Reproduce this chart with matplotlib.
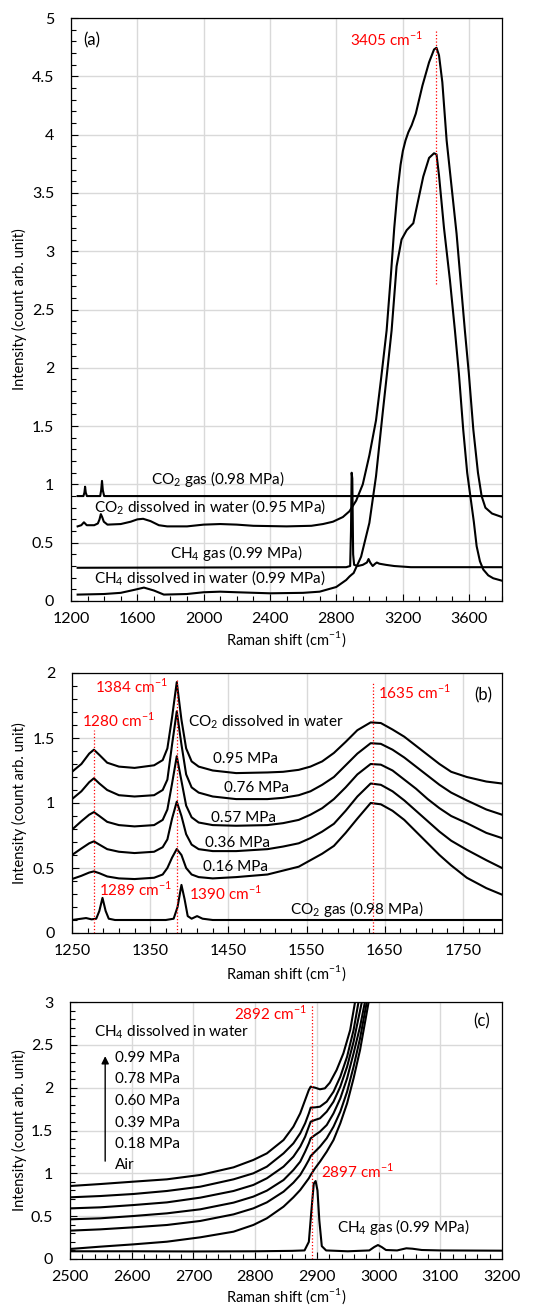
import numpy as np
import matplotlib
matplotlib.use("Agg")
import matplotlib.pyplot as plt
from matplotlib.ticker import MultipleLocator, FuncFormatter

plt.rcParams['font.family'] = ['Lato', 'DejaVu Sans']
plt.rcParams['mathtext.fontset'] = 'custom'
plt.rcParams['mathtext.rm'] = 'Lato'

# ---------------- panel (a) data ----------------
co2_gas_a_x = [1240, 1275, 1281, 1285, 1289, 1296, 1376, 1382, 1387, 1392, 1400, 3800]
co2_gas_a_y = [0.90, 0.90, 0.93, 0.98, 0.93, 0.90, 0.90, 0.95, 1.03, 0.95, 0.90, 0.90]

co2_aq_a_x = [1240, 1262, 1278, 1295, 1340, 1362, 1372, 1380, 1388, 1398, 1420, 1500, 1560,
              1600, 1635, 1680, 1730, 1780, 1900, 2000, 2100, 2200, 2300, 2500, 2650, 2720,
              2780, 2840, 2880, 2920, 2960, 3000, 3040, 3070, 3104, 3130, 3150, 3170, 3188,
              3202, 3218, 3235, 3255, 3280, 3320, 3360, 3390, 3405, 3420, 3440, 3466, 3496,
              3526, 3550, 3576, 3600, 3627, 3655, 3677, 3700, 3740, 3800]
co2_aq_a_y = [0.64, 0.65, 0.675, 0.65, 0.65, 0.665, 0.70, 0.745, 0.72, 0.68, 0.655, 0.66, 0.68,
              0.70, 0.705, 0.685, 0.65, 0.64, 0.64, 0.655, 0.66, 0.655, 0.645, 0.64, 0.645, 0.66,
              0.68, 0.72, 0.77, 0.86, 1.0, 1.25, 1.55, 1.9, 2.32, 2.8, 3.2, 3.52, 3.74,
              3.86, 3.95, 4.02, 4.08, 4.18, 4.42, 4.62, 4.73, 4.745, 4.68, 4.45, 3.95, 3.55,
              3.15, 2.75, 2.32, 1.95, 1.47, 1.1, 0.9, 0.8, 0.75, 0.72]

ch4_gas_a_x = [1240, 2860, 2884, 2889, 2893, 2897, 2902, 2908, 2930, 2960, 2985, 2995, 3005,
               3020, 3035, 3045, 3060, 3100, 3150, 3250, 3800]
ch4_gas_a_y = [0.285, 0.29, 0.30, 0.60, 1.10, 1.05, 0.40, 0.31, 0.30, 0.31, 0.33, 0.36, 0.33,
               0.30, 0.32, 0.33, 0.32, 0.31, 0.30, 0.29, 0.29]

ch4_aq_a_x = [1240, 1400, 1500, 1580, 1640, 1700, 1760, 1900, 2000, 2100, 2200, 2400, 2600,
              2700, 2800, 2860, 2880, 2892, 2905, 2950, 3000, 3040, 3080, 3110, 3134, 3164,
              3194, 3225, 3265, 3295, 3325, 3360, 3390, 3405, 3420, 3450, 3486, 3516, 3540,
              3566, 3590, 3610, 3630, 3647, 3667, 3687, 3717, 3747, 3800]
ch4_aq_a_y = [0.055, 0.06, 0.07, 0.095, 0.115, 0.09, 0.055, 0.06, 0.075, 0.08, 0.075, 0.066, 0.07,
              0.08, 0.12, 0.18, 0.21, 0.225, 0.24, 0.38, 0.67, 1.07, 1.61, 2.0, 2.32, 2.87,
              3.10, 3.18, 3.24, 3.44, 3.64, 3.80, 3.84, 3.83, 3.65, 3.20, 2.75, 2.32, 1.95,
              1.47, 1.1, 0.89, 0.68, 0.47, 0.34, 0.27, 0.22, 0.195, 0.174]

# ---------------- panel (b) data ----------------
co2_gas_b_x = [1250, 1262, 1268, 1275, 1281, 1285, 1289, 1293, 1297, 1305, 1370, 1380, 1385,
               1390, 1394, 1398, 1403, 1410, 1417, 1430, 1800]
co2_gas_b_y = [0.10, 0.11, 0.115, 0.105, 0.11, 0.17, 0.27, 0.17, 0.11, 0.10, 0.10, 0.11, 0.20,
               0.37, 0.26, 0.13, 0.11, 0.13, 0.11, 0.10, 0.10]

aq_b_x = [1250, 1262, 1272, 1278, 1285, 1295, 1310, 1330, 1355, 1366, 1372, 1378, 1384, 1390,
          1396, 1403, 1412, 1430, 1460, 1500, 1520, 1540, 1555, 1570, 1585, 1600, 1615, 1632,
          1645, 1660, 1675, 1690, 1705, 1720, 1735, 1755, 1780, 1800]
aq_095 = [1.24, 1.30, 1.38, 1.41, 1.37, 1.31, 1.28, 1.27, 1.29, 1.33, 1.42, 1.66, 1.93, 1.64,
          1.42, 1.32, 1.28, 1.25, 1.23, 1.235, 1.24, 1.255, 1.28, 1.32, 1.385, 1.47, 1.56, 1.62,
          1.615, 1.565, 1.51, 1.44, 1.37, 1.30, 1.24, 1.20, 1.165, 1.15]
aq_076 = [1.03, 1.09, 1.16, 1.19, 1.15, 1.10, 1.06, 1.05, 1.06, 1.10, 1.18, 1.45, 1.705, 1.45,
          1.22, 1.12, 1.08, 1.05, 1.03, 1.03, 1.04, 1.06, 1.09, 1.14, 1.20, 1.29, 1.38, 1.46,
          1.455, 1.41, 1.35, 1.28, 1.21, 1.14, 1.08, 1.02, 0.95, 0.91]
aq_057 = [0.795, 0.86, 0.91, 0.93, 0.90, 0.855, 0.83, 0.82, 0.83, 0.87, 0.95, 1.15, 1.36, 1.17,
          0.98, 0.89, 0.85, 0.83, 0.825, 0.83, 0.845, 0.87, 0.91, 0.96, 1.03, 1.12, 1.22, 1.30,
          1.295, 1.25, 1.18, 1.11, 1.03, 0.96, 0.90, 0.845, 0.77, 0.73]
aq_036 = [0.60, 0.65, 0.69, 0.705, 0.68, 0.645, 0.625, 0.615, 0.625, 0.66, 0.72, 0.88, 1.01, 0.90,
          0.76, 0.68, 0.645, 0.63, 0.63, 0.645, 0.665, 0.69, 0.73, 0.78, 0.84, 0.94, 1.05, 1.15,
          1.14, 1.09, 1.02, 0.94, 0.86, 0.78, 0.71, 0.64, 0.56, 0.50]
aq_016 = [0.415, 0.44, 0.465, 0.474, 0.46, 0.435, 0.42, 0.415, 0.425, 0.45, 0.50, 0.58, 0.646, 0.60,
          0.50, 0.45, 0.43, 0.42, 0.43, 0.45, 0.48, 0.51, 0.56, 0.61, 0.67, 0.77, 0.88, 1.00,
          0.99, 0.94, 0.87, 0.78, 0.69, 0.60, 0.52, 0.425, 0.345, 0.295]
aq_b_labels = ['0.95 MPa', '0.76 MPa', '0.57 MPa', '0.36 MPa', '0.16 MPa']

# ---------------- panel (c) data ----------------
c_x_099 = [2500, 2549, 2603, 2657, 2711, 2765, 2797, 2819, 2846, 2862, 2873, 2881, 2887, 2890,
           2897, 2905, 2913, 2921, 2932, 2943, 2954, 2962]
c_y_099 = [0.852, 0.875, 0.903, 0.930, 0.981, 1.070, 1.156, 1.233, 1.389, 1.545, 1.700, 1.856,
           1.973, 2.012, 2.000, 1.981, 1.992, 2.058, 2.206, 2.401, 2.673, 3.004]
c_x_078 = [2500, 2549, 2603, 2657, 2711, 2765, 2797, 2819, 2846, 2862, 2873, 2881, 2887, 2890,
           2897, 2905, 2916, 2927, 2938, 2949, 2959.5, 2967.6]
c_y_078 = [0.720, 0.735, 0.759, 0.794, 0.844, 0.930, 1.000, 1.078, 1.233, 1.350, 1.467, 1.584,
           1.700, 1.767, 1.770, 1.778, 1.837, 1.953, 2.128, 2.362, 2.673, 3.004]
c_x_060 = [2500, 2549, 2603, 2657, 2711, 2765, 2797, 2819, 2846, 2862, 2873, 2881, 2887, 2890,
           2897, 2905, 2916, 2927, 2938, 2949, 2959.5, 2973]
c_y_060 = [0.591, 0.603, 0.630, 0.661, 0.716, 0.794, 0.864, 0.942, 1.078, 1.195, 1.311, 1.428,
           1.545, 1.603, 1.623, 1.642, 1.720, 1.837, 2.012, 2.245, 2.537, 3.004]
c_x_039 = [2500, 2549, 2603, 2657, 2711, 2765, 2797, 2819, 2846, 2862, 2873, 2881, 2887, 2890,
           2897, 2905, 2916, 2927, 2938, 2949, 2959.5, 2970, 2978]
c_y_039 = [0.463, 0.475, 0.502, 0.533, 0.580, 0.658, 0.728, 0.798, 0.922, 1.039, 1.136, 1.253,
           1.350, 1.409, 1.447, 1.486, 1.564, 1.700, 1.875, 2.109, 2.401, 2.712, 3.004]
c_x_018 = [2500, 2549, 2603, 2657, 2711, 2765, 2797, 2819, 2846, 2862, 2873, 2881, 2887, 2890,
           2897, 2905, 2916, 2927, 2938, 2949, 2959.5, 2970, 2981]
c_y_018 = [0.331, 0.346, 0.370, 0.397, 0.444, 0.521, 0.591, 0.661, 0.786, 0.891, 0.981, 1.078,
           1.156, 1.202, 1.253, 1.311, 1.409, 1.545, 1.720, 1.953, 2.245, 2.576, 3.004]
c_x_air = [2500, 2549, 2603, 2657, 2711, 2765, 2797, 2819, 2846, 2862, 2873, 2881, 2887, 2890,
           2897, 2905, 2916, 2927, 2938, 2949, 2959.5, 2970, 2984]
c_y_air = [0.117, 0.144, 0.171, 0.202, 0.253, 0.319, 0.397, 0.475, 0.611, 0.720, 0.805, 0.883,
           0.942, 0.981, 1.058, 1.136, 1.253, 1.389, 1.584, 1.817, 2.109, 2.440, 3.004]
c_labels = ['0.99 MPa', '0.78 MPa', '0.60 MPa', '0.39 MPa', '0.18 MPa', 'Air']

ch4_gas_c_x = [2500, 2600, 2700, 2800, 2860, 2880, 2887, 2891, 2895, 2898, 2901, 2904, 2908,
               2915, 2950, 2985, 2993, 2999, 3005, 3012, 3030, 3045, 3055, 3070, 3100, 3200]
ch4_gas_c_y = [0.09, 0.09, 0.088, 0.09, 0.095, 0.10, 0.20, 0.55, 0.88, 0.91, 0.80, 0.45, 0.15,
               0.10, 0.09, 0.10, 0.14, 0.163, 0.14, 0.105, 0.10, 0.125, 0.12, 0.105, 0.10, 0.097]

# ---------------- figure ----------------
W, H = 538, 1307
fig = plt.figure(figsize=(W / 100, H / 100), dpi=100)

def px_axes(l, t, r, b):
    return fig.add_axes([l / W, 1 - b / H, (r - l) / W, (b - t) / H])

ax_a = px_axes(71, 18, 502, 601)
ax_b = px_axes(72, 673, 502, 933)
ax_c = px_axes(70, 1002, 502, 1259)

FS = 11
TFS = 11.5
LW = 1.5
RED = '#ff0000'
fmt = FuncFormatter(lambda v, p: '%g' % v)

def style(ax, xlim, ylim, xmaj, xmin, ymaj, ymin, xoff=0):
    ax.set_xlim(*xlim)
    ax.set_ylim(*ylim)
    ax.xaxis.set_major_locator(MultipleLocator(xmaj, offset=xoff))
    ax.xaxis.set_minor_locator(MultipleLocator(xmin, offset=xoff % xmin))
    ax.yaxis.set_major_locator(MultipleLocator(ymaj))
    ax.yaxis.set_minor_locator(MultipleLocator(ymin))
    ax.xaxis.set_major_formatter(fmt)
    ax.yaxis.set_major_formatter(fmt)
    ax.grid(True, which='major', color='#d9d9d9', lw=1.0)
    ax.set_axisbelow(True)
    ax.tick_params(which='both', direction='in', width=0.8, colors='black')
    ax.tick_params(which='major', length=5, labelsize=TFS)
    ax.tick_params(which='minor', length=3.5)
    ax.tick_params(axis='x', pad=8)
    ax.tick_params(axis='y', pad=12)
    for s in ax.spines.values():
        s.set_linewidth(0.9)
        s.set_color('black')

xlab = r'Raman shift (cm$^{\mathregular{-1}}$)'
ylab = 'Intensity (count arb. unit)'

# ---- (a)
style(ax_a, (1200, 3800), (0, 5), 400, 100, 0.5, 0.1)
for xs, ys in [(co2_gas_a_x, co2_gas_a_y), (co2_aq_a_x, co2_aq_a_y),
               (ch4_gas_a_x, ch4_gas_a_y), (ch4_aq_a_x, ch4_aq_a_y)]:
    ax_a.plot(xs, ys, color='black', lw=LW, solid_joinstyle='round')
ax_a.plot([3400, 3400], [2.72, 4.89], color=RED, lw=0.9, ls=':')
ax_a.text(3323, 4.82, r'3405 cm$^{\mathregular{-1}}$', color=RED, fontsize=FS, ha='right', va='center')
ax_a.text(0.028, 0.962, '(a)', transform=ax_a.transAxes, fontsize=FS + 1, ha='left', va='center')
ax_a.text(2083, 1.045, r'CO$_{\mathregular{2}}$ gas (0.98 MPa)', fontsize=FS, ha='center', va='center')
ax_a.text(2040, 0.806, r'CO$_{\mathregular{2}}$ dissolved in water (0.95 MPa)', fontsize=FS, ha='center', va='center')
ax_a.text(2201, 0.41, r'CH$_{\mathregular{4}}$ gas (0.99 MPa)', fontsize=FS, ha='center', va='center')
ax_a.text(2038, 0.195, r'CH$_{\mathregular{4}}$ dissolved in water (0.99 MPa)', fontsize=FS, ha='center', va='center')

# ---- (b)
style(ax_b, (1250, 1800), (0, 2), 100, 20, 0.5, 0.1, xoff=50)
for ys in [aq_095, aq_076, aq_057, aq_036, aq_016]:
    ax_b.plot(aq_b_x, ys, color='black', lw=LW, solid_joinstyle='round')
ax_b.plot(co2_gas_b_x, co2_gas_b_y, color='black', lw=LW, solid_joinstyle='round')
for xv, top in [(1278, 1.56), (1384, 1.95), (1635, 1.92)]:
    ax_b.plot([xv, xv], [0, top], color=RED, lw=0.9, ls=':')
ax_b.text(1373, 1.90, r'1384 cm$^{\mathregular{-1}}$', color=RED, fontsize=FS, ha='right', va='center')
ax_b.text(1641, 1.85, r'1635 cm$^{\mathregular{-1}}$', color=RED, fontsize=FS, ha='left', va='center')
ax_b.text(1263, 1.635, r'1280 cm$^{\mathregular{-1}}$', color=RED, fontsize=FS, ha='left', va='center')
ax_b.text(1284, 0.333, r'1289 cm$^{\mathregular{-1}}$', color=RED, fontsize=FS, ha='left', va='center')
ax_b.text(1400, 0.307, r'1390 cm$^{\mathregular{-1}}$', color=RED, fontsize=FS, ha='left', va='center')
ax_b.text(1398, 1.62, r'CO$_{\mathregular{2}}$ dissolved in water', fontsize=FS, ha='left', va='center')
for lab, (lx, ly) in zip(aq_b_labels, [(1472, 1.34), (1486, 1.115), (1469, 0.885), (1461.5, 0.69), (1459, 0.505)]):
    ax_b.text(lx, ly, lab, fontsize=FS, ha='center', va='center')
ax_b.text(1614.5, 0.185, r'CO$_{\mathregular{2}}$ gas (0.98 MPa)', fontsize=FS, ha='center', va='center')
ax_b.text(0.977, 0.915, '(b)', transform=ax_b.transAxes, fontsize=FS + 1, ha='right', va='center')

# ---- (c)
style(ax_c, (2500, 3200), (0, 3), 100, 20, 0.5, 0.1)
for xs, ys in [(c_x_099, c_y_099), (c_x_078, c_y_078), (c_x_060, c_y_060),
               (c_x_039, c_y_039), (c_x_018, c_y_018), (c_x_air, c_y_air)]:
    ax_c.plot(xs, ys, color='black', lw=LW, solid_joinstyle='round')
ax_c.plot(ch4_gas_c_x, ch4_gas_c_y, color='black', lw=LW, solid_joinstyle='round')
ax_c.plot([2892, 2892], [0, 2.96], color=RED, lw=0.9, ls=':')
ax_c.text(2884.5, 2.87, r'2892 cm$^{\mathregular{-1}}$', color=RED, fontsize=FS, ha='right', va='center')
ax_c.text(2906.7, 1.02, r'2897 cm$^{\mathregular{-1}}$', color=RED, fontsize=FS, ha='left', va='center')
ax_c.text(2539.4, 2.65, r'CH$_{\mathregular{4}}$ dissolved in water', fontsize=FS, ha='left', va='center')
for lab, ly in zip(c_labels, [2.35, 2.10, 1.85, 1.59, 1.345, 1.097]):
    ax_c.text(2573, ly, lab, fontsize=FS, ha='left', va='center')
ax_c.annotate('', xy=(2557, 2.40), xytext=(2557, 1.11),
              arrowprops=dict(arrowstyle='-|>', color='black', lw=1.0, mutation_scale=11))
ax_c.text(3041, 0.37, r'CH$_{\mathregular{4}}$ gas (0.99 MPa)', fontsize=FS, ha='center', va='center')
ax_c.text(0.972, 0.926, '(c)', transform=ax_c.transAxes, fontsize=FS + 1, ha='right', va='center')

# axis labels placed at the reference pixel positions
for yc in [639, 973, 1296]:
    fig.text(286 / W, 1 - yc / H, xlab, fontsize=FS - 0.5, ha='center', va='center')
for yc in [309, 803, 1130]:
    fig.text(19 / W, 1 - yc / H, ylab, fontsize=FS - 0.5, ha='center', va='center', rotation=90)

fig.savefig('out.png', dpi=100)
